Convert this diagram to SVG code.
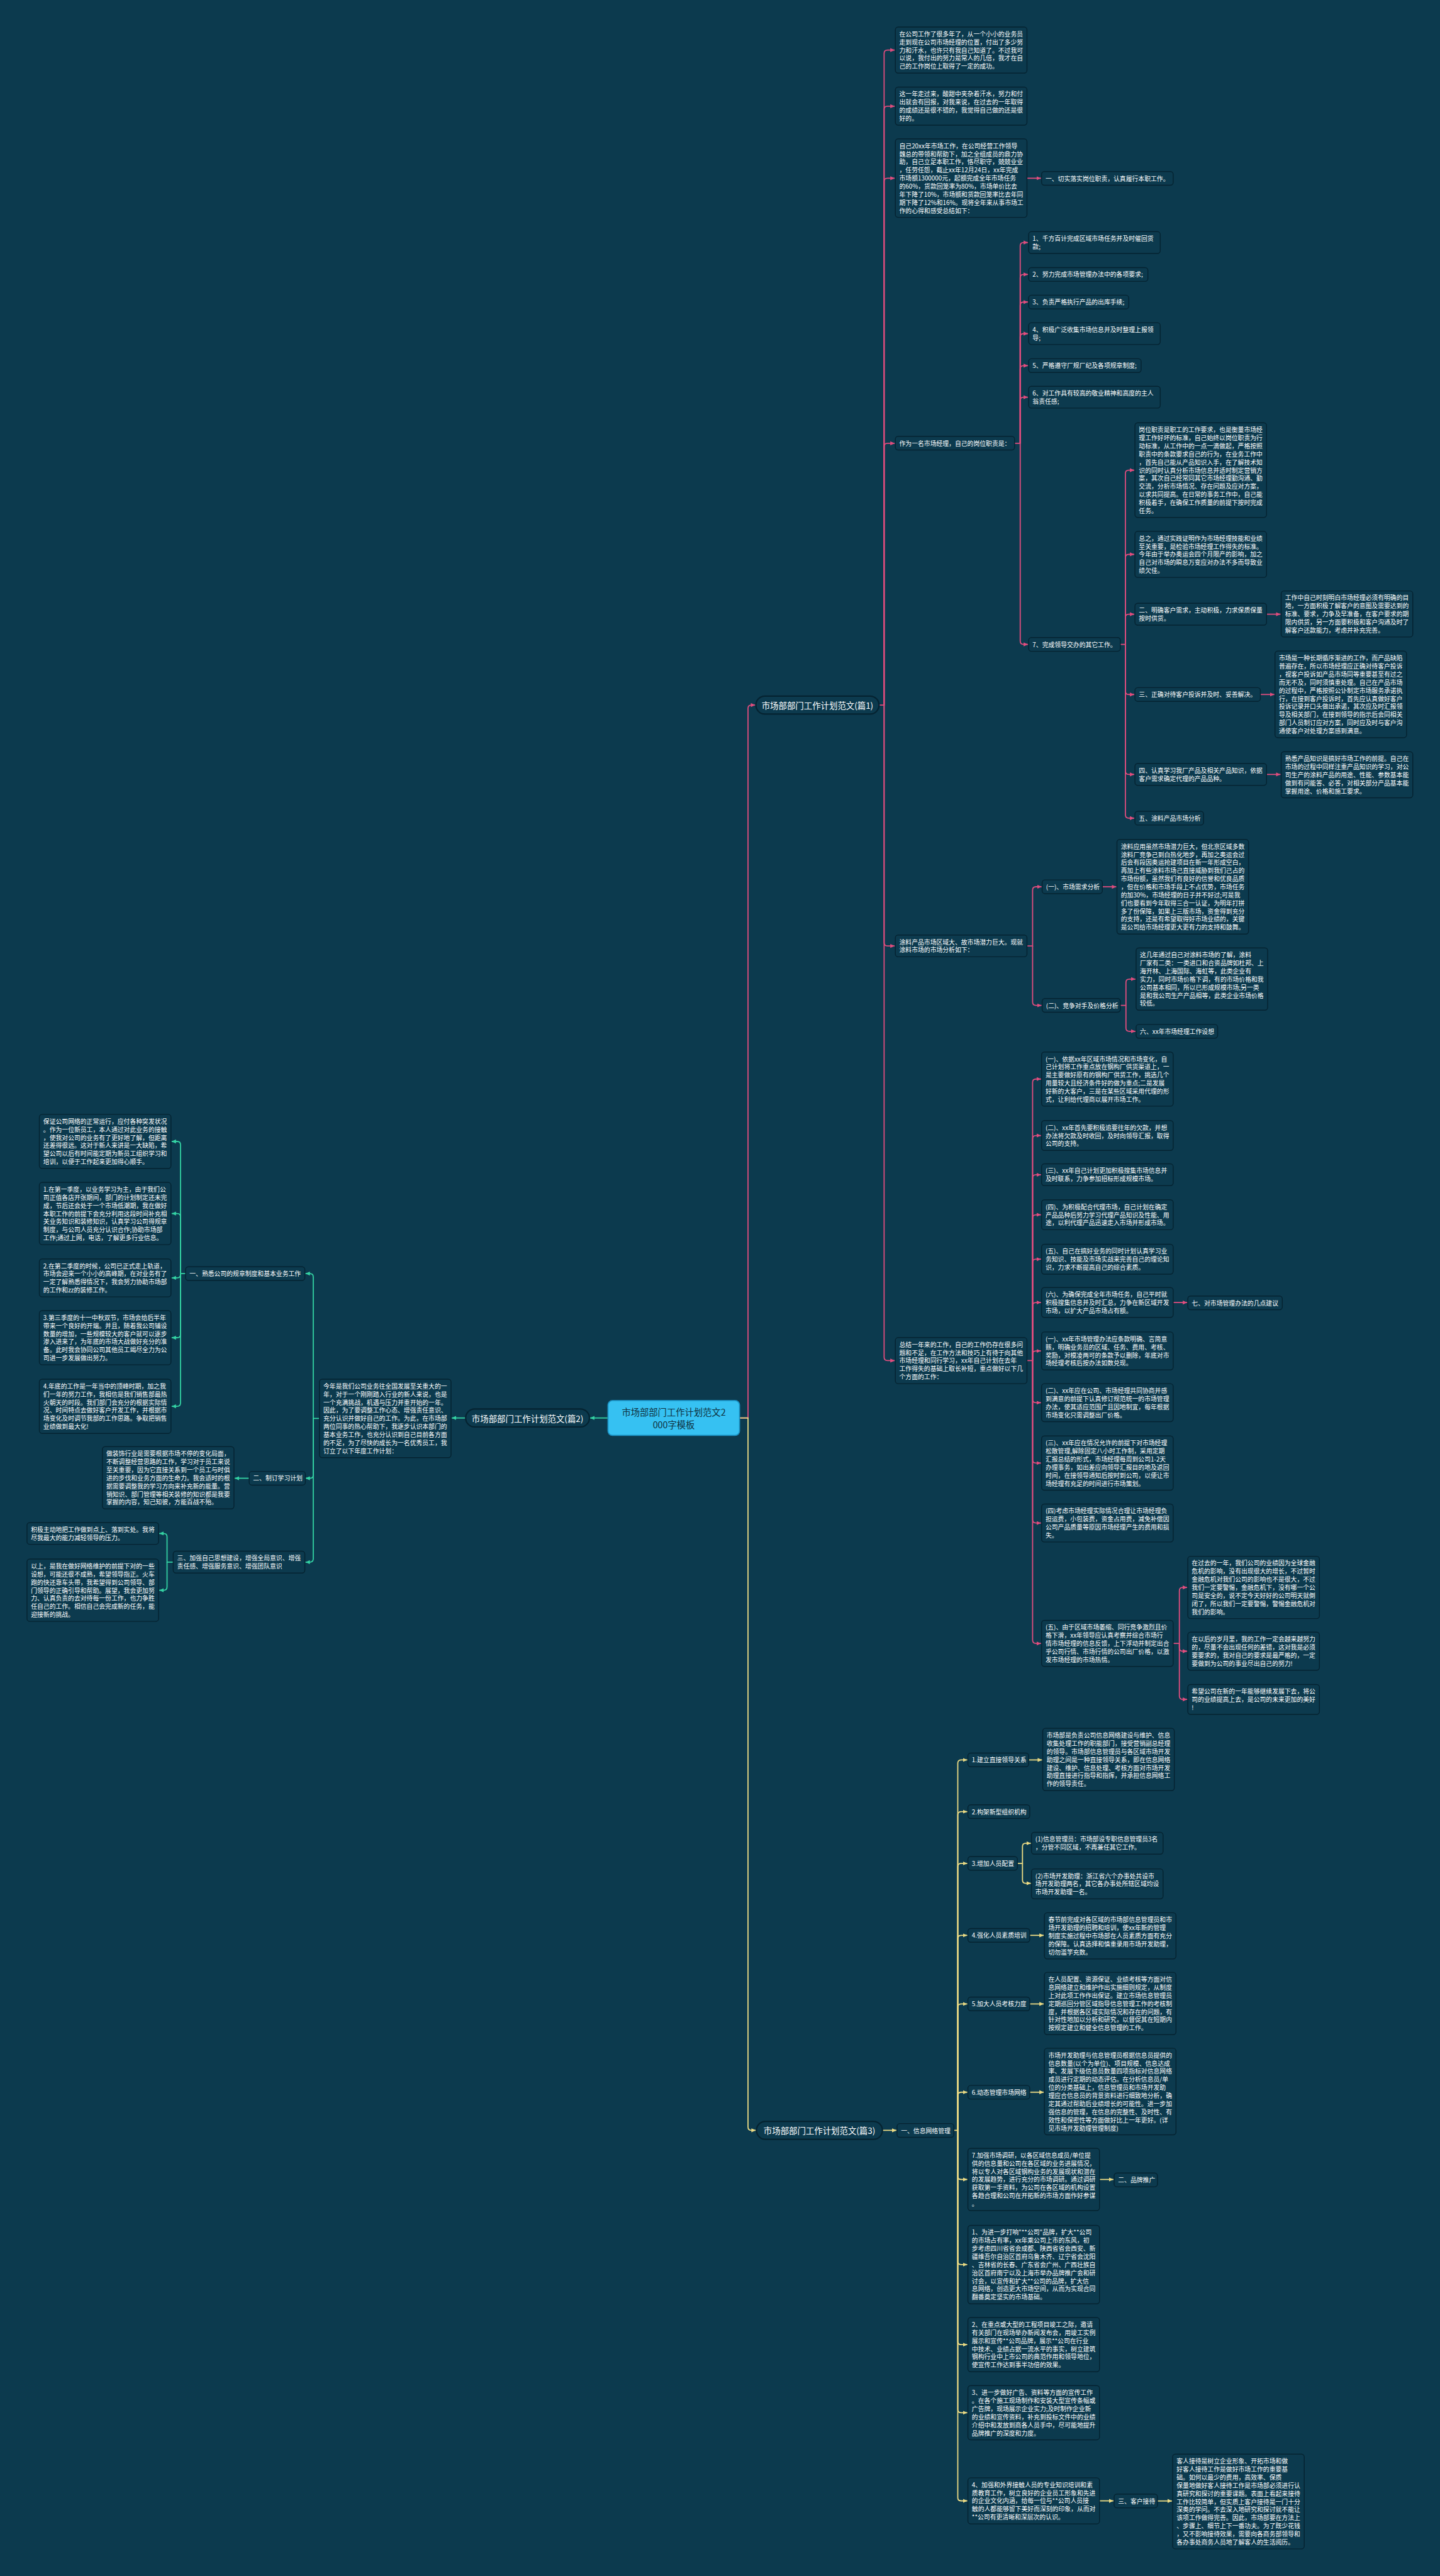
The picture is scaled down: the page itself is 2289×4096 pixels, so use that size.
<svg xmlns="http://www.w3.org/2000/svg" width="2289" height="4096" viewBox="0 0 2289 4096">
<style>
.t{font-family:"Noto Sans CJK SC","Noto Sans",sans-serif;font-size:11px;fill:#ffffff;dominant-baseline:central}
.tm{font-family:"Noto Sans CJK SC","Noto Sans",sans-serif;font-size:15px;fill:#ffffff;dominant-baseline:central;text-anchor:middle}
.tc{font-family:"Noto Sans CJK SC","Noto Sans",sans-serif;font-size:16px;fill:#0f3140;dominant-baseline:central;text-anchor:middle}
.b{fill:#0c3a4e;stroke:#052331;stroke-width:1.6}
.bm{fill:#0c3a4e;stroke:#052331;stroke-width:2.5}
.cp{fill:none;stroke:#e04d7e;stroke-width:2}
.cg{fill:none;stroke:#34d2a3;stroke-width:2}
.cy{fill:none;stroke:#ecdb84;stroke-width:2}
</style>
<defs>
<marker id="ap" markerUnits="userSpaceOnUse" markerWidth="8" markerHeight="8" viewBox="0 0 8 8" refX="8" refY="4" orient="auto"><path d="M0,0.5 L8,4 L0,7.5 z" fill="#e04d7e"/></marker>
<marker id="ag" markerUnits="userSpaceOnUse" markerWidth="8" markerHeight="8" viewBox="0 0 8 8" refX="8" refY="4" orient="auto"><path d="M0,0.5 L8,4 L0,7.5 z" fill="#34d2a3"/></marker>
<marker id="ay" markerUnits="userSpaceOnUse" markerWidth="8" markerHeight="8" viewBox="0 0 8 8" refX="8" refY="4" orient="auto"><path d="M0,0.5 L8,4 L0,7.5 z" fill="#ecdb84"/></marker>
</defs>
<rect x="0" y="0" width="2289" height="4096" fill="#0c3a4e"/>
<g transform="scale(0.894)">
<g id="connectors">
<g class="cp" marker-end="url(#ap)">
<path d="M1315,2522 H1330 V1260 Q1330,1254 1336,1254 H1343"/>
<path d="M1563,1254 H1572 V95 Q1572,89 1578,89 H1591"/>
<path d="M1572,1254 V195 Q1572,189 1578,189 H1591"/>
<path d="M1572,1254 V323 Q1572,317 1578,317 H1591"/>
<path d="M1572,1254 V794.5 Q1572,788.5 1578,788.5 H1591"/>
<path d="M1572,1254 V1676.4 Q1572,1682.4 1578,1682.4 H1591"/>
<path d="M1572,1254 V2414 Q1572,2420 1578,2420 H1591"/>
<path d="M1826,317 H1851"/>
<path d="M1804,788.5 H1814 V437.4 Q1814,431.4 1820,431.4 H1828"/>
<path d="M1814,788.5 V494.2 Q1814,488.2 1820,488.2 H1828"/>
<path d="M1814,788.5 V543.2 Q1814,537.2 1820,537.2 H1828"/>
<path d="M1814,788.5 V599.4 Q1814,593.4 1820,593.4 H1828"/>
<path d="M1814,788.5 V656.2 Q1814,650.2 1820,650.2 H1828"/>
<path d="M1814,788.5 V712.4 Q1814,706.4 1820,706.4 H1828"/>
<path d="M1814,788.5 V1140.2 Q1814,1146.2 1820,1146.2 H1828"/>
<path d="M1992,1146.2 H2001 V842.2 Q2001,836.2 2007,836.2 H2017"/>
<path d="M2001,1146.2 V992 Q2001,986 2007,986 H2017"/>
<path d="M2001,1146.2 V1098.4 Q2001,1092.4 2007,1092.4 H2017"/>
<path d="M2001,1146.2 V1229.2 Q2001,1235.2 2007,1235.2 H2017"/>
<path d="M2001,1146.2 V1371.4 Q2001,1377.4 2007,1377.4 H2017"/>
<path d="M2001,1146.2 V1449.2 Q2001,1455.2 2007,1455.2 H2017"/>
<path d="M2252,1092.4 H2277"/>
<path d="M2241,1235.2 H2266"/>
<path d="M2252,1377.4 H2277"/>
<path d="M1826,1682.4 H1836 V1583.2 Q1836,1577.2 1842,1577.2 H1852"/>
<path d="M1836,1682.4 V1782.2 Q1836,1788.2 1842,1788.2 H1852"/>
<path d="M1960,1577.2 H1985"/>
<path d="M1992,1788.2 H2002 V1747.4 Q2002,1741.4 2008,1741.4 H2019"/>
<path d="M2002,1788.2 V1828.2 Q2002,1834.2 2008,1834.2 H2019"/>
<path d="M1826,2420 H1836 V1925.2 Q1836,1919.2 1842,1919.2 H1851"/>
<path d="M1836,2420 V2025.6 Q1836,2019.6 1842,2019.6 H1851"/>
<path d="M1836,2420 V2095.4 Q1836,2089.4 1842,2089.4 H1851"/>
<path d="M1836,2420 V2166.6 Q1836,2160.6 1842,2160.6 H1851"/>
<path d="M1836,2420 V2245.6 Q1836,2239.6 1842,2239.6 H1851"/>
<path d="M1836,2420 V2322.6 Q1836,2316.6 1842,2316.6 H1851"/>
<path d="M1836,2420 V2408.8 Q1836,2402.8 1842,2402.8 H1851"/>
<path d="M1836,2420 V2488.8 Q1836,2494.8 1842,2494.8 H1851"/>
<path d="M1836,2420 V2596.2 Q1836,2602.2 1842,2602.2 H1851"/>
<path d="M1836,2420 V2702.8 Q1836,2708.8 1842,2708.8 H1851"/>
<path d="M1836,2420 V2917 Q1836,2923 1842,2923 H1851"/>
<path d="M2086,2316.6 H2111"/>
<path d="M2086,2923 H2097 V2829.4 Q2097,2823.4 2103,2823.4 H2111"/>
<path d="M2097,2923 V2930.8 Q2097,2936.8 2103,2936.8 H2111"/>
<path d="M2097,2923 V3016.6 Q2097,3022.6 2103,3022.6 H2111"/>
</g>
<g class="cg" marker-end="url(#ag)">
<path d="M1081,2522 H1049"/>
<path d="M828,2522 H803"/>
<path d="M568,2522.8 H557 V2271.2 Q557,2265.2 551,2265.2 H543"/>
<path d="M557,2522.8 V2623.2 Q557,2629.2 551,2629.2 H543"/>
<path d="M557,2522.8 V2772.4 Q557,2778.4 551,2778.4 H543"/>
<path d="M330,2265.2 H321 V2036.2 Q321,2030.2 315,2030.2 H305"/>
<path d="M321,2265.2 V2164.4 Q321,2158.4 315,2158.4 H305"/>
<path d="M321,2265.2 V2266.8 Q321,2272.8 315,2272.8 H305"/>
<path d="M321,2265.2 V2373.2 Q321,2379.2 315,2379.2 H305"/>
<path d="M321,2265.2 V2495.2 Q321,2501.2 315,2501.2 H305"/>
<path d="M443,2629.2 H417"/>
<path d="M308,2778.4 H297 V2733.4 Q297,2727.4 291,2727.4 H283"/>
<path d="M297,2778.4 V2822.4 Q297,2828.4 291,2828.4 H283"/>
</g>
<g class="cy" marker-end="url(#ay)">
<path d="M1315,2522 H1330 V3783 Q1330,3789 1336,3789 H1344"/>
<path d="M1569,3789 H1594"/>
<path d="M1696,3789 H1703 V3136.2 Q1703,3130.2 1709,3130.2 H1720"/>
<path d="M1703,3789 V3228.2 Q1703,3222.2 1709,3222.2 H1720"/>
<path d="M1703,3789 V3320.2 Q1703,3314.2 1709,3314.2 H1720"/>
<path d="M1703,3789 V3448.2 Q1703,3442.2 1709,3442.2 H1720"/>
<path d="M1703,3789 V3570.2 Q1703,3564.2 1709,3564.2 H1720"/>
<path d="M1703,3789 V3727.2 Q1703,3721.2 1709,3721.2 H1720"/>
<path d="M1703,3789 V3870.4 Q1703,3876.4 1709,3876.4 H1720"/>
<path d="M1703,3789 V4021.8 Q1703,4027.8 1709,4027.8 H1720"/>
<path d="M1703,3789 V4164.2 Q1703,4170.2 1709,4170.2 H1720"/>
<path d="M1703,3789 V4285.2 Q1703,4291.2 1709,4291.2 H1720"/>
<path d="M1703,3789 V4442 Q1703,4448 1709,4448 H1720"/>
<path d="M1829,3130.2 H1853"/>
<path d="M1809,3314.2 H1818 V3284.4 Q1818,3278.4 1824,3278.4 H1833"/>
<path d="M1818,3314.2 V3343.6 Q1818,3349.6 1824,3349.6 H1833"/>
<path d="M1831,3442.2 H1856"/>
<path d="M1831,3564.2 H1856"/>
<path d="M1831,3721.2 H1856"/>
<path d="M1955,3876.4 H1980"/>
<path d="M1955,4448 H1980"/>
<path d="M2058,4448.2 H2084"/>
</g>
</g>

<g id="center"><rect x="1081" y="2491" width="234" height="62" rx="8" fill="#36c1f2" stroke="#1b8fc0" stroke-width="2"/><text class="tc" x="1198" y="2511">市场部部门工作计划范文2</text><text class="tc" x="1198" y="2533">000字模板</text></g>

<g id="p0"><rect class="bm" x="1344" y="1238" width="219" height="32" rx="16"/><text class="tm" x="1453.5" y="1254">市场部部门工作计划范文(篇1)</text></g>
<g id="p1"><rect class="b" x="1592" y="48" width="234" height="82" rx="5"/><text class="t" x="1599" y="60.2"><tspan x="1599" dy="0">在公司工作了很多年了，从一个小小的业务员</tspan><tspan x="1599" dy="14.4">走到现在公司市场经理的位置，付出了多少努</tspan><tspan x="1599" dy="14.4">力和汗水，也许只有我自己知道了。不过我可</tspan><tspan x="1599" dy="14.4">以说，我付出的努力是常人的几倍，我才在自</tspan><tspan x="1599" dy="14.4">己的工作岗位上取得了一定的成功。</tspan></text></g>
<g id="p2"><rect class="b" x="1592" y="155" width="234" height="67.6" rx="5"/><text class="t" x="1599" y="167.2"><tspan x="1599" dy="0">这一年走过来，酸甜中夹杂着汗水，努力和付</tspan><tspan x="1599" dy="14.4">出就会有回报，对我来说，在过去的一年取得</tspan><tspan x="1599" dy="14.4">的成绩还是很不错的，我觉得自己做的还是很</tspan><tspan x="1599" dy="14.4">好的。</tspan></text></g>
<g id="p3"><rect class="b" x="1592" y="247" width="234" height="139.6" rx="5"/><text class="t" x="1599" y="259.2"><tspan x="1599" dy="0">自己20xx年市场工作，在公司经营工作领导</tspan><tspan x="1599" dy="14.4">魏总的带领和帮助下，加之全组成员的鼎力协</tspan><tspan x="1599" dy="14.4">助，自己立足本职工作，恪尽职守，兢兢业业</tspan><tspan x="1599" dy="14.4">，任劳任怨，截止xx年12月24日，xx年完成</tspan><tspan x="1599" dy="14.4">市场额1300000元，起额完成全年市场任务</tspan><tspan x="1599" dy="14.4">的60%，货款回笼率为80%，市场单价比去</tspan><tspan x="1599" dy="14.4">年下降了10%，市场额和货款回笼率比去年同</tspan><tspan x="1599" dy="14.4">期下降了12%和16%。现将全年来从事市场工</tspan><tspan x="1599" dy="14.4">作的心得和感受总结如下：</tspan></text></g>
<g id="p3a"><rect class="b" x="1852" y="305" width="234" height="24.4" rx="5"/><text class="t" x="1859" y="317.2">一、切实落实岗位职责，认真履行本职工作。</text></g>
<g id="p4"><rect class="b" x="1592" y="776" width="212" height="24.4" rx="5"/><text class="t" x="1599" y="788.2">作为一名市场经理，自己的岗位职责是：</text></g>
<g id="p41"><rect class="b" x="1829" y="412" width="234" height="38.8" rx="5"/><text class="t" x="1836" y="424.2"><tspan x="1836" dy="0">1、千方百计完成区域市场任务并及时催回货</tspan><tspan x="1836" dy="14.4">款;</tspan></text></g>
<g id="p42"><rect class="b" x="1829" y="476" width="212" height="24.4" rx="5"/><text class="t" x="1836" y="488.2">2、努力完成市场管理办法中的各项要求;</text></g>
<g id="p43"><rect class="b" x="1829" y="525" width="178" height="24.4" rx="5"/><text class="t" x="1836" y="537.2">3、负责严格执行产品的出库手续;</text></g>
<g id="p44"><rect class="b" x="1829" y="574" width="234" height="38.8" rx="5"/><text class="t" x="1836" y="586.2"><tspan x="1836" dy="0">4、积极广泛收集市场信息并及时整理上报领</tspan><tspan x="1836" dy="14.4">导;</tspan></text></g>
<g id="p45"><rect class="b" x="1829" y="638" width="200" height="24.4" rx="5"/><text class="t" x="1836" y="650.2">5、严格遵守厂规厂纪及各项规章制度;</text></g>
<g id="p46"><rect class="b" x="1829" y="687" width="234" height="38.8" rx="5"/><text class="t" x="1836" y="699.2"><tspan x="1836" dy="0">6、对工作具有较高的敬业精神和高度的主人</tspan><tspan x="1836" dy="14.4">翁责任感;</tspan></text></g>
<g id="p47"><rect class="b" x="1829" y="1134" width="163" height="24.4" rx="5"/><text class="t" x="1836" y="1146.2">7、完成领导交办的其它工作。</text></g>
<g id="p47a"><rect class="b" x="2018" y="752" width="234" height="168.4" rx="5"/><text class="t" x="2025" y="764.2"><tspan x="2025" dy="0">岗位职责是职工的工作要求，也是衡量市场经</tspan><tspan x="2025" dy="14.4">理工作好坏的标准，自己始终以岗位职责为行</tspan><tspan x="2025" dy="14.4">动标准，从工作中的一点一滴做起，严格按照</tspan><tspan x="2025" dy="14.4">职责中的条款要求自己的行为，在业务工作中</tspan><tspan x="2025" dy="14.4">，首先自己能从产品知识入手，在了解技术知</tspan><tspan x="2025" dy="14.4">识的同时认真分析市场信息并适时制定营销方</tspan><tspan x="2025" dy="14.4">案，其次自己经常同其它市场经理勤沟通、勤</tspan><tspan x="2025" dy="14.4">交流，分析市场情况、存在问题及应对方案，</tspan><tspan x="2025" dy="14.4">以求共同提高。在日常的事务工作中，自己能</tspan><tspan x="2025" dy="14.4">积极着手，在确保工作质量的前提下按时完成</tspan><tspan x="2025" dy="14.4">任务。</tspan></text></g>
<g id="p47b"><rect class="b" x="2018" y="945" width="234" height="82" rx="5"/><text class="t" x="2025" y="957.2"><tspan x="2025" dy="0">总之，通过实践证明作为市场经理技能和业绩</tspan><tspan x="2025" dy="14.4">至关重要，是检验市场经理工作得失的标准。</tspan><tspan x="2025" dy="14.4">今年由于举办奥运会四个月限产的影响，加之</tspan><tspan x="2025" dy="14.4">自己对市场的瞬息万变应对办法不多而导致业</tspan><tspan x="2025" dy="14.4">绩欠佳。</tspan></text></g>
<g id="p47c"><rect class="b" x="2018" y="1073" width="234" height="38.8" rx="5"/><text class="t" x="2025" y="1085.2"><tspan x="2025" dy="0">二、明确客户需求，主动积极，力求保质保量</tspan><tspan x="2025" dy="14.4">按时供货。</tspan></text></g>
<g id="p47c1"><rect class="b" x="2278" y="1051" width="234" height="82" rx="5"/><text class="t" x="2285" y="1063.2"><tspan x="2285" dy="0">工作中自己时刻明白市场经理必须有明确的目</tspan><tspan x="2285" dy="14.4">地，一方面积极了解客户的意图及需要达到的</tspan><tspan x="2285" dy="14.4">标准、要求，力争及早准备，在客户要求的期</tspan><tspan x="2285" dy="14.4">限内供货，另一方面要积极和客户沟通及时了</tspan><tspan x="2285" dy="14.4">解客户还款能力，考虑并补充完善。</tspan></text></g>
<g id="p47d"><rect class="b" x="2018" y="1223" width="223" height="24.4" rx="5"/><text class="t" x="2025" y="1235.2">三、正确对待客户投诉并及时、妥善解决。</text></g>
<g id="p47d1"><rect class="b" x="2267" y="1158" width="234" height="154" rx="5"/><text class="t" x="2274" y="1170.2"><tspan x="2274" dy="0">市场是一种长期循序渐进的工作，而产品缺陷</tspan><tspan x="2274" dy="14.4">普遍存在，所以市场经理应正确对待客户投诉</tspan><tspan x="2274" dy="14.4">，视客户投诉如产品市场同等重要甚至有过之</tspan><tspan x="2274" dy="14.4">而无不及，同时须慎重处理。自己在产品市场</tspan><tspan x="2274" dy="14.4">的过程中，严格按照公讣制定市场服务承诺执</tspan><tspan x="2274" dy="14.4">行，在接到客户投诉时，首先应认真做好客户</tspan><tspan x="2274" dy="14.4">投诉记录并口头做出承诺，其次应及时汇报领</tspan><tspan x="2274" dy="14.4">导及相关部门，在接到领导的指示后会同相关</tspan><tspan x="2274" dy="14.4">部门人员制订应对方案，同时应及时与客户沟</tspan><tspan x="2274" dy="14.4">通使客户对处理方案感到满意。</tspan></text></g>
<g id="p47e"><rect class="b" x="2018" y="1358" width="234" height="38.8" rx="5"/><text class="t" x="2025" y="1370.2"><tspan x="2025" dy="0">四、认真学习我厂产品及相关产品知识，依据</tspan><tspan x="2025" dy="14.4">客户需求确定代理的产品品种。</tspan></text></g>
<g id="p47e1"><rect class="b" x="2278" y="1337" width="234" height="82" rx="5"/><text class="t" x="2285" y="1349.2"><tspan x="2285" dy="0">熟悉产品知识是搞好市场工作的前提。自己在</tspan><tspan x="2285" dy="14.4">市场的过程中同样注重产品知识的学习，对公</tspan><tspan x="2285" dy="14.4">司生产的涂料产品的用途、性能、参数基本能</tspan><tspan x="2285" dy="14.4">做到有问能答、必答，对相关部分产品基本能</tspan><tspan x="2285" dy="14.4">掌握用途、价格和施工要求。</tspan></text></g>
<g id="p47f"><rect class="b" x="2018" y="1443" width="122" height="24.4" rx="5"/><text class="t" x="2025" y="1455.2">五、涂料产品市场分析</text></g>
<g id="p5"><rect class="b" x="1592" y="1663" width="234" height="38.8" rx="5"/><text class="t" x="1599" y="1675.2"><tspan x="1599" dy="0">涂料产品市场区域大、故市场潜力巨大。现就</tspan><tspan x="1599" dy="14.4">涂料市场的市场分析如下：</tspan></text></g>
<g id="p51"><rect class="b" x="1853" y="1565" width="107" height="24.4" rx="5"/><text class="t" x="1860" y="1577.2">(一)、市场需求分析</text></g>
<g id="p51a"><rect class="b" x="1986" y="1493" width="234" height="168.4" rx="5"/><text class="t" x="1993" y="1505.2"><tspan x="1993" dy="0">涂料应用虽然市场潜力巨大，但北京区域多数</tspan><tspan x="1993" dy="14.4">涂料厂竞争己到白热化地步，再加之奥运会过</tspan><tspan x="1993" dy="14.4">后会有段因奥运抢建项目在新一年形成空白，</tspan><tspan x="1993" dy="14.4">再加上有些涂料市场己直接威胁到我们己占的</tspan><tspan x="1993" dy="14.4">市场份额，虽然我们有良好的信誉和优良品质</tspan><tspan x="1993" dy="14.4">，但在价格和市场手段上不占优势，市场任务</tspan><tspan x="1993" dy="14.4">的加30%，市场经理的日子并不好过;可是我</tspan><tspan x="1993" dy="14.4">们也要看到今年取得三合一认证，为明年打拼</tspan><tspan x="1993" dy="14.4">多了份保障，如果上三版市场，资金得到充分</tspan><tspan x="1993" dy="14.4">的支持，还是有希望取得好市场业绩的，关键</tspan><tspan x="1993" dy="14.4">是公司给市场经理更大更有力的支持和鼓舞。</tspan></text></g>
<g id="p52"><rect class="b" x="1853" y="1776" width="139" height="24.4" rx="5"/><text class="t" x="1860" y="1788.2">(二)、竞争对手及价格分析</text></g>
<g id="p52a"><rect class="b" x="2020" y="1686" width="234" height="110.8" rx="5"/><text class="t" x="2027" y="1698.2"><tspan x="2027" dy="0">这几年通过自己对涂料市场的了解，涂料</tspan><tspan x="2027" dy="14.4">厂家有二类：一类进口和合资品牌如杜邦、上</tspan><tspan x="2027" dy="14.4">海开林、上海国际、海虹等，此类企业有</tspan><tspan x="2027" dy="14.4">实力，同时市场价格下调，有的市场价格和我</tspan><tspan x="2027" dy="14.4">公司基本相同，所以已形成规模市场;另一类</tspan><tspan x="2027" dy="14.4">是和我公司生产产品相等，此类企业市场价格</tspan><tspan x="2027" dy="14.4">较低。</tspan></text></g>
<g id="p52b"><rect class="b" x="2020" y="1822" width="145" height="24.4" rx="5"/><text class="t" x="2027" y="1834.2">六、xx年市场经理工作设想</text></g>
<g id="p6"><rect class="b" x="1592" y="2379" width="234" height="82" rx="5"/><text class="t" x="1599" y="2391.2"><tspan x="1599" dy="0">总结一年来的工作，自己的工作仍存在很多问</tspan><tspan x="1599" dy="14.4">题和不足，在工作方法和技巧上有待于向其他</tspan><tspan x="1599" dy="14.4">市场经理和同行学习，xx年自己计划在去年</tspan><tspan x="1599" dy="14.4">工作得失的基础上取长补短，重点做好以下几</tspan><tspan x="1599" dy="14.4">个方面的工作：</tspan></text></g>
<g id="p61"><rect class="b" x="1852" y="1871" width="234" height="96.4" rx="5"/><text class="t" x="1859" y="1883.2"><tspan x="1859" dy="0">(一)、依据xx年区域市场情况和市场变化，自</tspan><tspan x="1859" dy="14.4">己计划将工作重点放在钢构厂供货渠道上，一</tspan><tspan x="1859" dy="14.4">是主要做好原有的钢构厂供货工作，挑选几个</tspan><tspan x="1859" dy="14.4">用量较大且经济条件好的做为重点;二是发展</tspan><tspan x="1859" dy="14.4">好新的大客户，三是在某些区域采用代理的形</tspan><tspan x="1859" dy="14.4">式，让利给代理商以展开市场工作。</tspan></text></g>
<g id="p62"><rect class="b" x="1852" y="1993" width="234" height="53.2" rx="5"/><text class="t" x="1859" y="2005.2"><tspan x="1859" dy="0">(二)、xx年首先要积极追要往年的欠款，并想</tspan><tspan x="1859" dy="14.4">办法将欠款及时收回，及时向领导汇报，取得</tspan><tspan x="1859" dy="14.4">公司的支持。</tspan></text></g>
<g id="p63"><rect class="b" x="1852" y="2070" width="234" height="38.8" rx="5"/><text class="t" x="1859" y="2082.2"><tspan x="1859" dy="0">(三)、xx年自己计划更加积极搜集市场信息并</tspan><tspan x="1859" dy="14.4">及时联系，力争参加招标形成规模市场。</tspan></text></g>
<g id="p64"><rect class="b" x="1852" y="2134" width="234" height="53.2" rx="5"/><text class="t" x="1859" y="2146.2"><tspan x="1859" dy="0">(四)、为积极配合代理市场，自己计划在确定</tspan><tspan x="1859" dy="14.4">产品品种后努力学习代理产品知识及性能、用</tspan><tspan x="1859" dy="14.4">途，以利代理产品迅速走入市场并形成市场。</tspan></text></g>
<g id="p65"><rect class="b" x="1852" y="2213" width="234" height="53.2" rx="5"/><text class="t" x="1859" y="2225.2"><tspan x="1859" dy="0">(五)、自己在搞好业务的同时计划认真学习业</tspan><tspan x="1859" dy="14.4">务知识、技能及市场实战来完善自己的理论知</tspan><tspan x="1859" dy="14.4">识，力求不断提高自己的综合素质。</tspan></text></g>
<g id="p66"><rect class="b" x="1852" y="2290" width="234" height="53.2" rx="5"/><text class="t" x="1859" y="2302.2"><tspan x="1859" dy="0">(六)、为确保完成全年市场任务，自己平时就</tspan><tspan x="1859" dy="14.4">积极搜集信息并及时汇总，力争在新区域开发</tspan><tspan x="1859" dy="14.4">市场，以扩大产品市场占有额。</tspan></text></g>
<g id="p66a"><rect class="b" x="2112" y="2305" width="168" height="24.4" rx="5"/><text class="t" x="2119" y="2317.2">七、对市场管理办法的几点建议</text></g>
<g id="p67"><rect class="b" x="1852" y="2369" width="234" height="67.6" rx="5"/><text class="t" x="1859" y="2381.2"><tspan x="1859" dy="0">(一)、xx年市场管理办法应条款明确、言简意</tspan><tspan x="1859" dy="14.4">赅，明确业务员的区域、任务、费用、考核、</tspan><tspan x="1859" dy="14.4">奖励，对模凌两可的条款予以删除，年底对市</tspan><tspan x="1859" dy="14.4">场经理考核后按办法如数兑现。</tspan></text></g>
<g id="p68"><rect class="b" x="1852" y="2461" width="234" height="67.6" rx="5"/><text class="t" x="1859" y="2473.2"><tspan x="1859" dy="0">(二)、xx年应在公司、市场经理共同协商并感</tspan><tspan x="1859" dy="14.4">到满意的前提下认真修订规范统一的市场管理</tspan><tspan x="1859" dy="14.4">办法，使其适应范围广且因地制宜，每年根据</tspan><tspan x="1859" dy="14.4">市场变化只需调整出厂价格。</tspan></text></g>
<g id="p69"><rect class="b" x="1852" y="2554" width="234" height="96.4" rx="5"/><text class="t" x="1859" y="2566.2"><tspan x="1859" dy="0">(三)、xx年应在情况允许的前提下对市场经理</tspan><tspan x="1859" dy="14.4">松散管理,解除固定八小时工作制，采用定期</tspan><tspan x="1859" dy="14.4">汇报总结的形式，市场经理每周到公司1-2天</tspan><tspan x="1859" dy="14.4">办理事务，如出差应向领导汇报目的地及返回</tspan><tspan x="1859" dy="14.4">时间，在接领导通知后按时到公司，以便让市</tspan><tspan x="1859" dy="14.4">场经理有充足的时间进行市场策划。</tspan></text></g>
<g id="p610"><rect class="b" x="1852" y="2675" width="234" height="67.6" rx="5"/><text class="t" x="1859" y="2687.2"><tspan x="1859" dy="0">(四)考虑市场经理实际情况合理让市场经理负</tspan><tspan x="1859" dy="14.4">担运费，小包装费，资金占用费，减免补偿因</tspan><tspan x="1859" dy="14.4">公司产品质量等原因市场经理产生的费用和损</tspan><tspan x="1859" dy="14.4">失。</tspan></text></g>
<g id="p611"><rect class="b" x="1852" y="2882" width="234" height="82" rx="5"/><text class="t" x="1859" y="2894.2"><tspan x="1859" dy="0">(五)、由于区域市场萎缩、同行竞争激烈且价</tspan><tspan x="1859" dy="14.4">格下滑，xx年领导应认真考察并综合市场行</tspan><tspan x="1859" dy="14.4">情市场经理的信息反馈，上下浮动并制定出合</tspan><tspan x="1859" dy="14.4">乎公司行情、市场行情的公司出厂价格，以激</tspan><tspan x="1859" dy="14.4">发市场经理的市场热情。</tspan></text></g>
<g id="p611a"><rect class="b" x="2112" y="2768" width="234" height="110.8" rx="5"/><text class="t" x="2119" y="2780.2"><tspan x="2119" dy="0">在过去的一年，我们公司的业绩因为全球金融</tspan><tspan x="2119" dy="14.4">危机的影响，没有出现很大的增长，不过暂时</tspan><tspan x="2119" dy="14.4">金融危机对我们公司的影响也不是很大，不过</tspan><tspan x="2119" dy="14.4">我们一定要警惕，金融危机下，没有哪一个公</tspan><tspan x="2119" dy="14.4">司是安全的，说不定今天好好的公司明天就倒</tspan><tspan x="2119" dy="14.4">闭了，所以我们一定要警惕，警惕金融危机对</tspan><tspan x="2119" dy="14.4">我们的影响。</tspan></text></g>
<g id="p611b"><rect class="b" x="2112" y="2903" width="234" height="67.6" rx="5"/><text class="t" x="2119" y="2915.2"><tspan x="2119" dy="0">在以后的岁月里，我的工作一定会越来越努力</tspan><tspan x="2119" dy="14.4">的，尽量不会出现任何的差错，这对我是必须</tspan><tspan x="2119" dy="14.4">要要求的，我对自己的要求是最严格的，一定</tspan><tspan x="2119" dy="14.4">要做到为公司的事业尽出自己的努力!</tspan></text></g>
<g id="p611c"><rect class="b" x="2112" y="2996" width="234" height="53.2" rx="5"/><text class="t" x="2119" y="3008.2"><tspan x="2119" dy="0">希望公司在新的一年能够继续发展下去，将公</tspan><tspan x="2119" dy="14.4">司的业绩提高上去，是公司的未来更加的美好</tspan><tspan x="2119" dy="14.4">!</tspan></text></g>

<g id="g0"><rect class="bm" x="828" y="2506" width="220" height="32" rx="16"/><text class="tm" x="938" y="2522">市场部部门工作计划范文(篇2)</text></g>
<g id="g1"><rect class="b" x="568" y="2453" width="234" height="139.6" rx="5"/><text class="t" x="575" y="2465.2"><tspan x="575" dy="0">今年是我们公司业务往全国发展至关重大的一</tspan><tspan x="575" dy="14.4">年，对于一个刚刚踏入行业的新人来说，也是</tspan><tspan x="575" dy="14.4">一个充满挑战，机遇与压力并重开始的一年。</tspan><tspan x="575" dy="14.4">因此，为了要调整工作心态、增强责任意识、</tspan><tspan x="575" dy="14.4">充分认识并做好自己的工作。为此，在市场部</tspan><tspan x="575" dy="14.4">两位同事的热心帮助下，我逐步认识本部门的</tspan><tspan x="575" dy="14.4">基本业务工作，也充分认识到自己目前各方面</tspan><tspan x="575" dy="14.4">的不足，为了尽快的成长为一名优秀员工，我</tspan><tspan x="575" dy="14.4">订立了以下年度工作计划：</tspan></text></g>
<g id="ga"><rect class="b" x="330" y="2253" width="212" height="24.4" rx="5"/><text class="t" x="337" y="2265.2">一、熟悉公司的规章制度和基本业务工作</text></g>
<g id="ga1"><rect class="b" x="70" y="1982" width="234" height="96.4" rx="5"/><text class="t" x="77" y="1994.2"><tspan x="77" dy="0">保证公司网络的正常运行，应付各种突发状况</tspan><tspan x="77" dy="14.4">。作为一位新员工，本人通过对此业务的接触</tspan><tspan x="77" dy="14.4">，使我对公司的业务有了更好地了解，但距离</tspan><tspan x="77" dy="14.4">还差得很远。这对于新人来讲是一大缺陷，希</tspan><tspan x="77" dy="14.4">望公司以后有时间能定期为新员工组织学习和</tspan><tspan x="77" dy="14.4">培训，以便于工作起来更加得心顺手。</tspan></text></g>
<g id="ga2"><rect class="b" x="70" y="2103" width="234" height="110.8" rx="5"/><text class="t" x="77" y="2115.2"><tspan x="77" dy="0">1.在第一季度，以业务学习为主，由于我们公</tspan><tspan x="77" dy="14.4">司正值各店开张期间，部门的计划制定还未完</tspan><tspan x="77" dy="14.4">成，节后还会处于一个市场低潮期，我在做好</tspan><tspan x="77" dy="14.4">本职工作的前提下会充分利用这段时间补充相</tspan><tspan x="77" dy="14.4">关业务知识和装修知识，认真学习公司得规章</tspan><tspan x="77" dy="14.4">制度，与公司人员充分认识合作;协助市场部</tspan><tspan x="77" dy="14.4">工作;通过上网，电话，了解更多行业信息。</tspan></text></g>
<g id="ga3"><rect class="b" x="70" y="2239" width="234" height="67.6" rx="5"/><text class="t" x="77" y="2251.2"><tspan x="77" dy="0">2.在第二季度的时候，公司已正式走上轨道，</tspan><tspan x="77" dy="14.4">市场会迎来一个小小的高峰期，在对业务有了</tspan><tspan x="77" dy="14.4">一定了解熟悉得情况下，我会努力协助市场部</tspan><tspan x="77" dy="14.4">的工作和zz的装修工作。</tspan></text></g>
<g id="ga4"><rect class="b" x="70" y="2331" width="234" height="96.4" rx="5"/><text class="t" x="77" y="2343.2"><tspan x="77" dy="0">3.第三季度的十一中秋双节，市场会给后半年</tspan><tspan x="77" dy="14.4">带来一个良好的开端。并且，随着我公司铺设</tspan><tspan x="77" dy="14.4">数量的增加，一些规模较大的客户就可以逐步</tspan><tspan x="77" dy="14.4">渗入进来了，为年底的市场大战做好充分的准</tspan><tspan x="77" dy="14.4">备。此时我会协同公司其他员工竭尽全力为公</tspan><tspan x="77" dy="14.4">司进一步发展做出努力。</tspan></text></g>
<g id="ga5"><rect class="b" x="70" y="2453" width="234" height="96.4" rx="5"/><text class="t" x="77" y="2465.2"><tspan x="77" dy="0">4.年底的工作是一年当中的顶峰时期，加之我</tspan><tspan x="77" dy="14.4">们一年的努力工作，我相信是我们销售部最热</tspan><tspan x="77" dy="14.4">火朝天的时段。我们部门会充分的根据实际情</tspan><tspan x="77" dy="14.4">况、时间特点去做好客户开发工作，并根据市</tspan><tspan x="77" dy="14.4">场变化及时调节我部的工作思路。争取把销售</tspan><tspan x="77" dy="14.4">业绩做到最大化!</tspan></text></g>
<g id="gb"><rect class="b" x="443" y="2617" width="100" height="24.4" rx="5"/><text class="t" x="450" y="2629.2">二、制订学习计划</text></g>
<g id="gb1"><rect class="b" x="182" y="2573" width="234" height="110.8" rx="5"/><text class="t" x="189" y="2585.2"><tspan x="189" dy="0">做装饰行业是需要根据市场不停的变化局面，</tspan><tspan x="189" dy="14.4">不断调整经营思路的工作，学习对于员工来说</tspan><tspan x="189" dy="14.4">至关重要，因为它直接关系到一个员工与时俱</tspan><tspan x="189" dy="14.4">进的步伐和业务方面的生命力。我会适时的根</tspan><tspan x="189" dy="14.4">据需要调整我的学习方向来补充新的能量。营</tspan><tspan x="189" dy="14.4">销知识、部门管理等相关装修的知识都是我要</tspan><tspan x="189" dy="14.4">掌握的内容，知己知彼，方能百战不殆。</tspan></text></g>
<g id="gc"><rect class="b" x="308" y="2759" width="234" height="38.8" rx="5"/><text class="t" x="315" y="2771.2"><tspan x="315" dy="0">三、加强自己思想建设，增强全局意识、增强</tspan><tspan x="315" dy="14.4">责任感、增强服务意识、增强团队意识</tspan></text></g>
<g id="gc1"><rect class="b" x="48" y="2708" width="234" height="38.8" rx="5"/><text class="t" x="55" y="2720.2"><tspan x="55" dy="0">积极主动地把工作做到点上、落到实处。我将</tspan><tspan x="55" dy="14.4">尽我最大的能力减轻领导的压力。</tspan></text></g>
<g id="gc2"><rect class="b" x="48" y="2773" width="234" height="110.8" rx="5"/><text class="t" x="55" y="2785.2"><tspan x="55" dy="0">以上，是我在做好网络维护的前提下对的一些</tspan><tspan x="55" dy="14.4">设想，可能还很不成熟，希望领导指正。火车</tspan><tspan x="55" dy="14.4">跑的快还靠车头带，我希望得到公司领导、部</tspan><tspan x="55" dy="14.4">门领导的正确引导和帮助。展望，我会更加努</tspan><tspan x="55" dy="14.4">力、认真负责的去对待每一份工作，也力争胜</tspan><tspan x="55" dy="14.4">任自己的工作。相信自己会完成新的任务，能</tspan><tspan x="55" dy="14.4">迎接新的挑战。</tspan></text></g>

<g id="y0"><rect class="bm" x="1345" y="3773" width="224" height="32" rx="16"/><text class="tm" x="1457" y="3789">市场部部门工作计划范文(篇3)</text></g>
<g id="y1"><rect class="b" x="1595" y="3777" width="101" height="24.4" rx="5"/><text class="t" x="1602" y="3789.2">一、信息网络管理</text></g>
<g id="y11"><rect class="b" x="1721" y="3118" width="108" height="24.4" rx="5"/><text class="t" x="1728" y="3130.2">1.建立直接领导关系</text></g>
<g id="y11a"><rect class="b" x="1854" y="3074" width="234" height="110.8" rx="5"/><text class="t" x="1861" y="3086.2"><tspan x="1861" dy="0">市场部是负责公司信息网络建设与维护、信息</tspan><tspan x="1861" dy="14.4">收集处理工作的职能部门，接受营销副总经理</tspan><tspan x="1861" dy="14.4">的领导。市场部信息管理员与各区域市场开发</tspan><tspan x="1861" dy="14.4">助理之间是一种直接领导关系，即在信息网络</tspan><tspan x="1861" dy="14.4">建设、维护、信息处理、考核方面对市场开发</tspan><tspan x="1861" dy="14.4">助理直接进行指导和指挥，并承担信息网络工</tspan><tspan x="1861" dy="14.4">作的领导责任。</tspan></text></g>
<g id="y12"><rect class="b" x="1721" y="3210" width="110" height="24.4" rx="5"/><text class="t" x="1728" y="3222.2">2.构架新型组织机构</text></g>
<g id="y13"><rect class="b" x="1721" y="3302" width="88" height="24.4" rx="5"/><text class="t" x="1728" y="3314.2">3.增加人员配置</text></g>
<g id="y13a"><rect class="b" x="1834" y="3259" width="234" height="38.8" rx="5"/><text class="t" x="1841" y="3271.2"><tspan x="1841" dy="0">(1)信息管理员：市场部设专职信息管理员3名</tspan><tspan x="1841" dy="14.4">，分管不同区域，不再兼任其它工作。</tspan></text></g>
<g id="y13b"><rect class="b" x="1834" y="3324" width="234" height="53.2" rx="5"/><text class="t" x="1841" y="3336.2"><tspan x="1841" dy="0">(2)市场开发助理：浙江省六个办事处共设市</tspan><tspan x="1841" dy="14.4">场开发助理两名，其它各办事处所辖区域均设</tspan><tspan x="1841" dy="14.4">市场开发助理一名。</tspan></text></g>
<g id="y14"><rect class="b" x="1721" y="3430" width="110" height="24.4" rx="5"/><text class="t" x="1728" y="3442.2">4.强化人员素质培训</text></g>
<g id="y14a"><rect class="b" x="1857" y="3402" width="234" height="82" rx="5"/><text class="t" x="1864" y="3414.2"><tspan x="1864" dy="0">春节前完成对各区域的市场部信息管理员和市</tspan><tspan x="1864" dy="14.4">场开发助理的招聘和培训，使xx年新的管理</tspan><tspan x="1864" dy="14.4">制度实施过程中市场部在人员素质方面有充分</tspan><tspan x="1864" dy="14.4">的保障。认真选择和慎重录用市场开发助理，</tspan><tspan x="1864" dy="14.4">切勿滥竽充数。</tspan></text></g>
<g id="y15"><rect class="b" x="1721" y="3552" width="110" height="24.4" rx="5"/><text class="t" x="1728" y="3564.2">5.加大人员考核力度</text></g>
<g id="y15a"><rect class="b" x="1857" y="3508" width="234" height="110.8" rx="5"/><text class="t" x="1864" y="3520.2"><tspan x="1864" dy="0">在人员配置、资源保证、业绩考核等方面对信</tspan><tspan x="1864" dy="14.4">息网络建立和维护作出实施细则规定，从制度</tspan><tspan x="1864" dy="14.4">上对此项工作作出保证。建立市场信息管理员</tspan><tspan x="1864" dy="14.4">定期巡回分管区域指导信息管理工作的考核制</tspan><tspan x="1864" dy="14.4">度，并根据各区域实际情况和存在的问题，有</tspan><tspan x="1864" dy="14.4">针对性地加以分析和研究，以督促其在短期内</tspan><tspan x="1864" dy="14.4">按规定建立和健全信息管理的工作。</tspan></text></g>
<g id="y16"><rect class="b" x="1721" y="3709" width="110" height="24.4" rx="5"/><text class="t" x="1728" y="3721.2">6.动态管理市场网络</text></g>
<g id="y16a"><rect class="b" x="1857" y="3643" width="234" height="154" rx="5"/><text class="t" x="1864" y="3655.2"><tspan x="1864" dy="0">市场开发助理与信息管理员根据信息员提供的</tspan><tspan x="1864" dy="14.4">信息数量(以个为单位)、项目规模、信息达成</tspan><tspan x="1864" dy="14.4">率、发展下级信息员数量四项指标对信息网络</tspan><tspan x="1864" dy="14.4">成员进行定期的动态评估。在分析信息员/单</tspan><tspan x="1864" dy="14.4">位的分类基础上，信息管理员和市场开发助</tspan><tspan x="1864" dy="14.4">理应合信息员的背景资料进行细致地分析，确</tspan><tspan x="1864" dy="14.4">定其通过帮助后业绩增长的可能性。进一步加</tspan><tspan x="1864" dy="14.4">强信息的管理，在信息的完整性、及时性、有</tspan><tspan x="1864" dy="14.4">效性和保密性等方面做好比上一年更好。(详</tspan><tspan x="1864" dy="14.4">见市场开发助理管理制度)</tspan></text></g>
<g id="y17"><rect class="b" x="1721" y="3821" width="234" height="110.8" rx="5"/><text class="t" x="1728" y="3833.2"><tspan x="1728" dy="0">7.加强市场调研，以各区域信息成员/单位提</tspan><tspan x="1728" dy="14.4">供的信息量和公司在各区域的业务进展情况，</tspan><tspan x="1728" dy="14.4">将以专人对各区域钢构业务的发展现状和潜在</tspan><tspan x="1728" dy="14.4">的发展趋势，进行充分的市场调研。通过调研</tspan><tspan x="1728" dy="14.4">获取第一手资料，为公司在各区域的机构设置</tspan><tspan x="1728" dy="14.4">各趋合理和公司在开拓新的市场方面作好参谋</tspan><tspan x="1728" dy="14.4">。</tspan></text></g>
<g id="y17a"><rect class="b" x="1981" y="3865" width="77" height="24.4" rx="5"/><text class="t" x="1988" y="3877.2">二、品牌推广</text></g>
<g id="y18"><rect class="b" x="1721" y="3958" width="234" height="139.6" rx="5"/><text class="t" x="1728" y="3970.2"><tspan x="1728" dy="0">1、为进一步打响"**公司"品牌，扩大**公司</tspan><tspan x="1728" dy="14.4">的市场占有率，xx年乘公司上市的东风，初</tspan><tspan x="1728" dy="14.4">步考虑四川省省会成都、陕西省省会西安、新</tspan><tspan x="1728" dy="14.4">疆维吾尔自治区首府乌鲁木齐、辽宁省会沈阳</tspan><tspan x="1728" dy="14.4">、吉林省的长春、广东省会广州、广西壮族自</tspan><tspan x="1728" dy="14.4">治区首府南宁以及上海市举办品牌推广会和研</tspan><tspan x="1728" dy="14.4">讨会，以宣传和扩大**公司的品牌，扩大信</tspan><tspan x="1728" dy="14.4">息网络，创造更大市场空间，从而为实现合同</tspan><tspan x="1728" dy="14.4">翻番奠定坚实的市场基础。</tspan></text></g>
<g id="y19"><rect class="b" x="1721" y="4122" width="234" height="96.4" rx="5"/><text class="t" x="1728" y="4134.2"><tspan x="1728" dy="0">2、在重点或大型的工程项目竣工之际，邀请</tspan><tspan x="1728" dy="14.4">有关部门在现场举办新闻发布会，用竣工实例</tspan><tspan x="1728" dy="14.4">展示和宣传**公司品牌，展示**公司在行业</tspan><tspan x="1728" dy="14.4">中技术、业绩占据一流水平的事实，树立建筑</tspan><tspan x="1728" dy="14.4">钢构行业中上市公司的典范作用和领导地位，</tspan><tspan x="1728" dy="14.4">使宣传工作达到事半功倍的效果。</tspan></text></g>
<g id="y110"><rect class="b" x="1721" y="4243" width="234" height="96.4" rx="5"/><text class="t" x="1728" y="4255.2"><tspan x="1728" dy="0">3、进一步做好广告、资料等方面的宣传工作</tspan><tspan x="1728" dy="14.4">。在各个施工现场制作和安装大型宣传条幅或</tspan><tspan x="1728" dy="14.4">广告牌，现场展示企业实力;及时制作企业新</tspan><tspan x="1728" dy="14.4">的业绩和宣传资料，补充到投标文件中的业绩</tspan><tspan x="1728" dy="14.4">介绍中和发放到商各人员手中，尽可能地提升</tspan><tspan x="1728" dy="14.4">品牌推广的深度和力度。</tspan></text></g>
<g id="y111"><rect class="b" x="1721" y="4407" width="234" height="82" rx="5"/><text class="t" x="1728" y="4419.2"><tspan x="1728" dy="0">4、加强和外界接触人员的专业知识培训和素</tspan><tspan x="1728" dy="14.4">质教育工作，树立良好的企业员工形象和先进</tspan><tspan x="1728" dy="14.4">的企业文化内涵，给每一位与**公司人员接</tspan><tspan x="1728" dy="14.4">触的人都能够留下美好而深刻的印象，从而对</tspan><tspan x="1728" dy="14.4">**公司有更清晰和深层次的认识。</tspan></text></g>
<g id="y111a"><rect class="b" x="1981" y="4436" width="77" height="24.4" rx="5"/><text class="t" x="1988" y="4448.2">三、客户接待</text></g>
<g id="y111b"><rect class="b" x="2085" y="4365" width="234" height="168.4" rx="5"/><text class="t" x="2092" y="4377.2"><tspan x="2092" dy="0">客人接待是树立企业形象、开拓市场和做</tspan><tspan x="2092" dy="14.4">好客人接待工作是做好市场工作的重要基</tspan><tspan x="2092" dy="14.4">础。如何以最少的费用，高效率、保质</tspan><tspan x="2092" dy="14.4">保量地做好客人接待工作是市场部必须进行认</tspan><tspan x="2092" dy="14.4">真研究和探讨的重要课题。表面上看起来接待</tspan><tspan x="2092" dy="14.4">工作比较简单，但实质上客户接待是一门十分</tspan><tspan x="2092" dy="14.4">深奥的学问。不去深入地研究和探讨就不能让</tspan><tspan x="2092" dy="14.4">该项工作做得完善。因此，市场部要在方法上</tspan><tspan x="2092" dy="14.4">、步骤上、细节上下一番功夫。为了既少花钱</tspan><tspan x="2092" dy="14.4">，又不影响接待效果，需要向各商务部领导和</tspan><tspan x="2092" dy="14.4">各办事处商务人员地了解客人的生活阅历。</tspan></text></g>
</g>
</svg>
